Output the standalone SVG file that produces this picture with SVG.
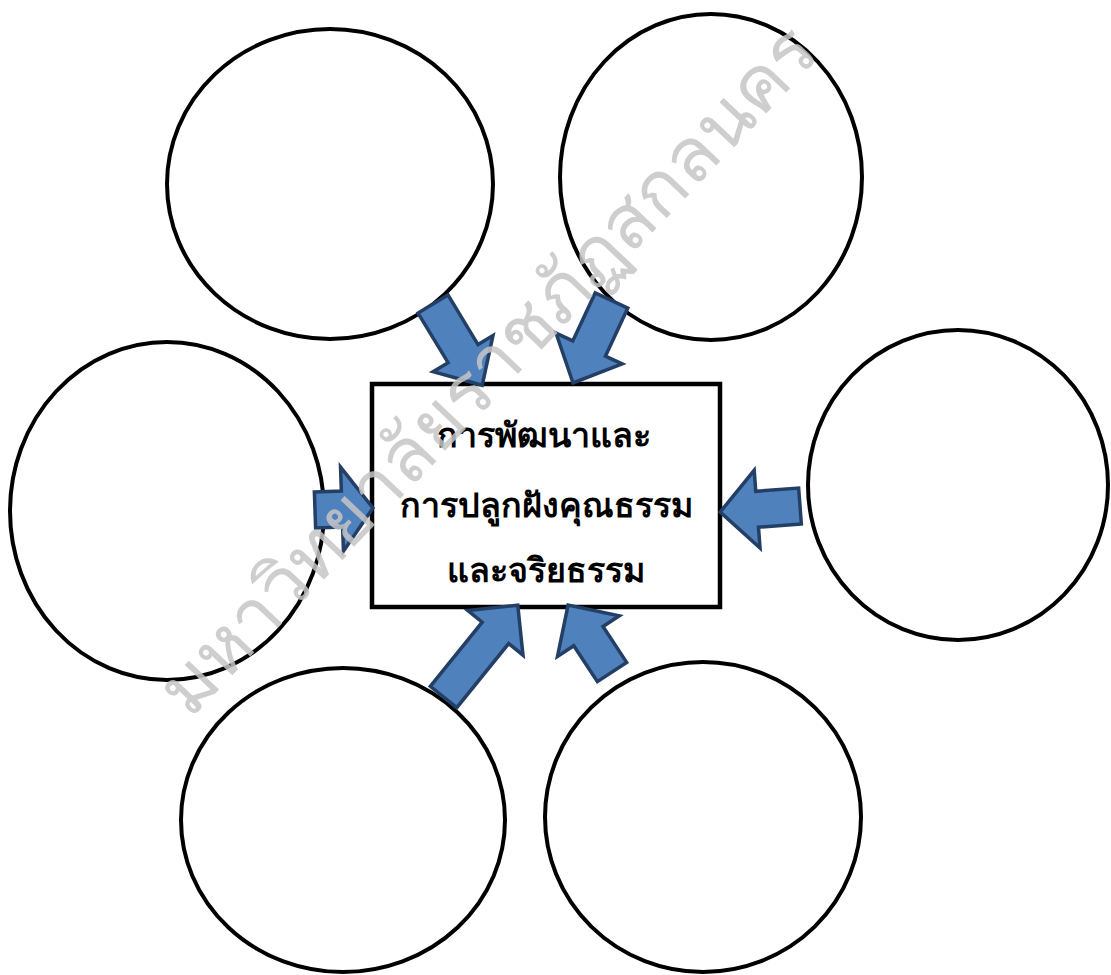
<svg xmlns="http://www.w3.org/2000/svg" width="1111" height="975" viewBox="0 0 1111 975">
<style>
.c{fill:#fff;stroke:#000;stroke-width:4}
.a{fill:#4f81bd;stroke:#243f66;stroke-width:3.5;stroke-linejoin:miter}
.t{font-family:"Noto Sans","DejaVu Sans",sans-serif;font-size:34px;font-weight:bold;fill:#000;text-anchor:middle}
.w{font-family:"Noto Sans","DejaVu Sans",sans-serif;font-size:75px;font-weight:300;fill:#c6c6c6;opacity:0.85;text-anchor:middle}
</style>
<rect width="1111" height="975" fill="#fff"/>
<g id="circle-top-left"><ellipse class="c" cx="330" cy="184" rx="163" ry="155"/></g>
<g id="circle-top-right"><ellipse class="c" cx="711" cy="177" rx="151" ry="163"/></g>
<g id="circle-left"><ellipse class="c" cx="167" cy="511" rx="157" ry="169"/></g>
<g id="circle-right"><ellipse class="c" cx="958" cy="485" rx="150" ry="155"/></g>
<g id="circle-bottom-left"><ellipse class="c" cx="343" cy="820" rx="162" ry="152"/></g>
<g id="circle-bottom-right"><ellipse class="c" cx="703" cy="817" rx="158" ry="155"/></g>
<g id="center">
<rect x="372" y="384" width="348" height="223" fill="#fff" stroke="#000" stroke-width="4.5"/>
<text class="t" x="544" y="447">การพัฒนาและ</text>
<text class="t" x="546" y="517">การปลูกฝังคุณธรรม</text>
<text class="t" x="546" y="582">และจริยธรรม</text>
</g>
<g id="connectors">
<path class="a" transform="translate(433,304) rotate(58.8)" d="M0,-17.5 L58,-17.5 L58,-35 L95,0 L58,35 L58,17.5 L0,17.5 Z"/>
<path class="a" transform="translate(611.5,300.5) rotate(115)" d="M0,-18 L53,-18 L53,-36.5 L91,0 L53,36.5 L53,18 L0,18 Z"/>
<path class="a" transform="translate(315,510) rotate(-2)" d="M0,-18 L27,-18 L27,-42 L58,0 L27,42 L27,18 L0,18 Z"/>
<path class="a" transform="translate(800,506) rotate(175.7)" d="M0,-18 L43,-18 L43,-39 L80,0 L43,39 L43,18 L0,18 Z"/>
<path class="a" transform="translate(443.5,697) rotate(-51)" d="M0,-17 L82.5,-17 L82.5,-35.5 L118,0 L82.5,35.5 L82.5,17 L0,17 Z"/>
<path class="a" transform="translate(612,672) rotate(-123.3)" d="M0,-17.5 L43,-17.5 L43,-37 L80,0 L43,37 L43,17.5 L0,17.5 Z"/>
</g>
<g id="watermark">
<text class="w" transform="translate(490,372) rotate(-46.5)" x="0" y="22">มหาวิทยาลัยราชภัฏสกลนคร</text>
</g>
</svg>
